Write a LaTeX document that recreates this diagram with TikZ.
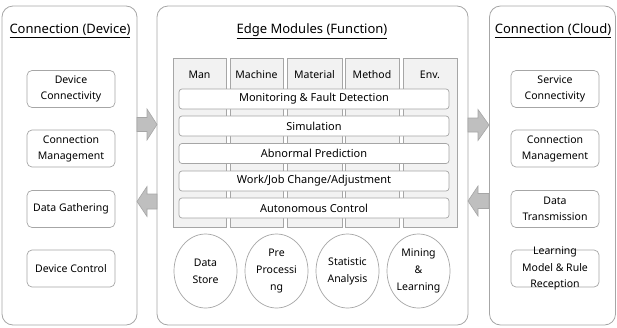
\documentclass[tikz,border=0pt]{standalone}
\usepackage{fontspec}
\setmainfont{Noto Sans}
\usetikzlibrary{positioning,shapes.geometric}
\definecolor{edgegray}{HTML}{A6A6A6}
\definecolor{colfill}{HTML}{F2F2F2}
\definecolor{arrowfill}{HTML}{BFBFBF}
\tikzset{
  panel/.style={draw=edgegray, line width=0.8pt, rounded corners=11pt, fill=white},
  paneltitle/.style={font=\fontsize{13}{15}\selectfont, inner sep=0pt},
  item/.style={draw=edgegray, line width=0.7pt, rounded corners=5pt, fill=white,
    minimum width=88pt, minimum height=37pt, align=center, inner sep=0pt,
    font=\fontsize{10.5}{16}\selectfont},
  colbox/.style={draw=edgegray, line width=0.7pt, fill=colfill, inner sep=0pt},
  collabel/.style={font=\fontsize{10.5}{13}\selectfont, inner sep=0pt},
  bar/.style={draw=edgegray, line width=0.7pt, rounded corners=3pt, fill=white,
    minimum width=270pt, minimum height=20pt, inner sep=0pt,
    font=\fontsize{11}{13}\selectfont},
  module/.style={draw=edgegray, line width=0.7pt, ellipse, fill=white,
    minimum width=63pt, minimum height=74pt, inner sep=0pt, align=center,
    font=\fontsize{10.5}{17}\selectfont},
  blockarrow/.style={draw=edgegray, line width=0.6pt, fill=arrowfill}
}
\begin{document}
\begin{tikzpicture}[x=1pt, y=-1pt]
\useasboundingbox (0,0) rectangle (617,327);

% three panels
\draw[panel] (2,6) rectangle (137,325);
\draw[panel] (157,6) rectangle (468,325);
\draw[panel] (489.5,6) rectangle (615.5,325);

% panel titles
\node[paneltitle] (tdev) at (70,31) {\underline{Connection (Device)}};
\node[paneltitle] (tedge) at (312,31) {\underline{Edge Modules (Function)}};
\node[paneltitle] (tcloud) at (553,31) {\underline{Connection (Cloud)}};

% device side
\node[item] (d1) at (71,89)  {Device\\Connectivity};
\node[item] (d2) at (71,148.5) {Connection\\Management};
\node[item] (d3) at (71,209) {Data Gathering};
\node[item] (d4) at (71,268.5) {Device Control};

% cloud side
\node[item] (c1) at (555,89)  {Service\\Connectivity};
\node[item] (c2) at (555,148.5) {Connection\\Management};
\node[item] (c3) at (555,209) {Data\\Transmission};
\node[item] (c4) at (555,268.5) {};
\node[align=center, inner sep=0pt, font=\fontsize{10.5}{16.5}\selectfont] (c4t) at (c4.center) {Learning\\Model \& Rule\\Reception};

% 5M+E columns
\foreach \n/\a/\b/\t in {man/173/226/Man, mac/230/283/Machine, mat/287/342/Material, met/345/399/Method, env/403/457/Env.}{
  \draw[colbox] (\a,58) rectangle (\b,227);
  \node[collabel] (\n) at ({(\a+\b)/2},74.5) {\t};
}

% function bars
\node[bar] (b1) at (314,99)   {Monitoring \& Fault Detection};
\node[bar] (b2) at (314,126)  {Simulation};
\node[bar] (b3) at (314,153.5){Abnormal Prediction};
\node[bar] (b4) at (314,181)  {Work/Job Change/Adjustment};
\node[bar] (b5) at (314,208)  {Autonomous Control};

% data modules
\node[module] (m1) at (205.5,271) {Data\\Store};
\node[module] (m2) at (276.5,271) {Pre\\Processi\\ng};
\node[module] (m3) at (347.5,271) {Statistic\\Analysis};
\node[module] (m4) at (418.5,271) {Mining\\\&\\Learning};

% block arrows between panels
\draw[blockarrow] (137,117.5) -- (147,117.5) -- (147,109) -- (157,124.5) -- (147,140) -- (147,131.5) -- (137,131.5) -- cycle;
\draw[blockarrow] (157,194) -- (147,194) -- (147,186.5) -- (137,201.5) -- (147,216.5) -- (147,209) -- (157,209) -- cycle;
\draw[blockarrow] (468,118) -- (478,118) -- (478,109.5) -- (489,125) -- (478,140.5) -- (478,132) -- (468,132) -- cycle;
\draw[blockarrow] (489,193.5) -- (478,193.5) -- (478,186) -- (468,201) -- (478,216) -- (478,208.5) -- (489,208.5) -- cycle;
\end{tikzpicture}
\end{document}
